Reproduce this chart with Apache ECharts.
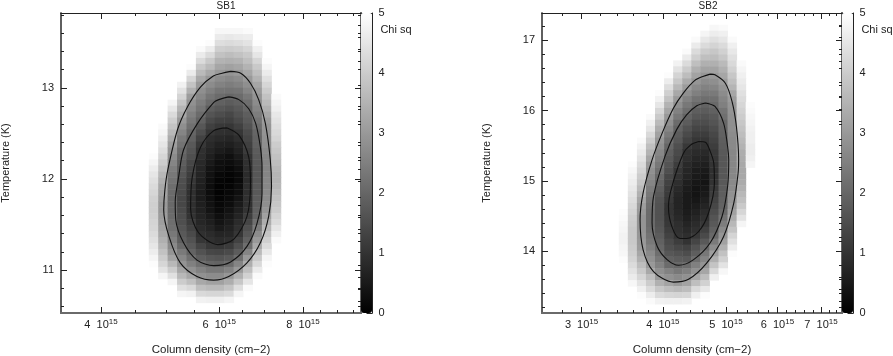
<!DOCTYPE html>
<html>
<head>
<meta charset="utf-8">
<style>
  html, body { margin: 0; padding: 0; background: #fff; }
  #chart { width: 893px; height: 356px; }
</style>
<script src="https://cdn.jsdelivr.net/npm/echarts@6/dist/echarts.min.js"></script>
</head>
<body>
<div id="chart"></div>
<script>
// SB1: column density of each pixel column (units of 1e15 cm-2), temperature of each pixel row (K)
var density1 = [4.79, 4.95, 5.11, 5.28, 5.46, 5.64, 5.82, 6.01, 6.21, 6.41, 6.62, 6.84, 7.07, 7.30];
var temp1 = [13.62, 13.55, 13.49, 13.42, 13.36, 13.29, 13.23, 13.16, 13.10, 13.03, 12.97, 12.90, 12.83, 12.77, 12.70, 12.64,
  12.57, 12.51, 12.44, 12.38, 12.31, 12.25, 12.18, 12.12, 12.05, 11.99, 11.92, 11.86, 11.79, 11.73, 11.66, 11.60,
  11.53, 11.47, 11.40, 11.33, 11.27, 11.20, 11.14, 11.07, 11.01, 10.94, 10.88, 10.81, 10.75, 10.68];
// first row that is below chi sq = 5 in each column, the rows above it are white
var firstRow1 = [21, 16, 12, 9, 6, 3, 2, 0, 0, 0, 0, 2, 5, 11];
var chi1 = [
  [4.95, 4.8, 4.65, 4.5, 4.4, 4.3, 4.2, 4.1, 4.05, 4.05, 4.1, 4.15, 4.2, 4.3, 4.4, 4.5, 4.65, 4.8, 4.95],
  [4.9, 4.8, 4.65, 4.5, 4.35, 4.2, 4.0, 3.8, 3.6, 3.45, 3.3, 3.2, 3.1, 3.0, 3.0, 3.05, 3.1, 3.2, 3.3, 3.45, 3.6, 3.8, 4.0, 4.2, 4.45, 4.8],
  [4.8, 4.55, 4.3, 4.05, 3.85, 3.6, 3.35, 3.1, 2.9, 2.75, 2.6, 2.45, 2.35, 2.25, 2.15, 2.1, 2.05, 2.05, 2.05, 2.1, 2.15, 2.2, 2.35, 2.5, 2.7, 2.9, 3.2, 3.6, 4.0, 4.4, 4.8],
  [4.75, 4.45, 4.15, 3.85, 3.55, 3.3, 3.0, 2.8, 2.6, 2.4, 2.25, 2.05, 1.95, 1.85, 1.75, 1.65, 1.55, 1.5, 1.45, 1.4, 1.4, 1.45, 1.5, 1.55, 1.65, 1.75, 1.85, 2.05, 2.4, 2.65, 2.9, 3.25, 3.6, 4.0, 4.4, 4.8],
  [4.95, 4.6, 4.2, 3.85, 3.45, 3.05, 2.85, 2.7, 2.5, 2.35, 2.2, 2.0, 1.9, 1.75, 1.65, 1.55, 1.4, 1.3, 1.2, 1.1, 1.0, 0.95, 0.95, 0.95, 0.95, 1.0, 1.15, 1.3, 1.45, 1.6, 1.75, 1.95, 2.2, 2.5, 2.85, 3.25, 3.75, 4.25, 4.75],
  [4.9, 4.6, 4.3, 3.95, 3.65, 3.3, 3.0, 2.8, 2.65, 2.45, 2.3, 2.1, 1.9, 1.7, 1.5, 1.3, 1.1, 0.95, 0.9, 0.8, 0.75, 0.7, 0.65, 0.6, 0.55, 0.55, 0.6, 0.65, 0.7, 0.75, 0.85, 0.95, 1.05, 1.35, 1.6, 1.85, 2.2, 2.55, 2.85, 3.3, 3.75, 4.25, 4.75],
  [4.95, 4.65, 4.3, 3.95, 3.65, 3.3, 2.95, 2.75, 2.5, 2.3, 2.1, 1.85, 1.65, 1.45, 1.25, 1.05, 0.9, 0.8, 0.7, 0.6, 0.5, 0.4, 0.35, 0.3, 0.25, 0.25, 0.3, 0.35, 0.4, 0.5, 0.6, 0.7, 0.85, 0.95, 1.1, 1.4, 1.7, 2.0, 2.35, 2.75, 3.15, 3.65, 4.2, 4.7],
  [4.85, 4.6, 4.35, 4.05, 3.8, 3.5, 3.25, 3.0, 2.75, 2.55, 2.3, 2.1, 1.9, 1.7, 1.5, 1.3, 1.1, 0.95, 0.8, 0.65, 0.55, 0.4, 0.3, 0.25, 0.15, 0.1, 0.05, 0.05, 0.1, 0.15, 0.2, 0.3, 0.4, 0.5, 0.7, 0.85, 1.05, 1.35, 1.65, 1.95, 2.35, 2.75, 3.15, 3.65, 4.2, 4.7],
  [4.85, 4.55, 4.3, 4.0, 3.7, 3.45, 3.15, 2.9, 2.65, 2.45, 2.25, 2.0, 1.8, 1.6, 1.4, 1.25, 1.05, 0.9, 0.75, 0.6, 0.45, 0.3, 0.25, 0.15, 0.1, 0.05, 0.1, 0.15, 0.2, 0.25, 0.35, 0.45, 0.55, 0.65, 0.75, 0.9, 1.15, 1.45, 1.75, 2.1, 2.55, 2.95, 3.4, 3.85, 4.3, 4.8],
  [4.85, 4.6, 4.35, 4.05, 3.8, 3.5, 3.25, 3.0, 2.75, 2.55, 2.3, 2.1, 1.9, 1.75, 1.6, 1.45, 1.25, 1.05, 0.9, 0.75, 0.65, 0.5, 0.4, 0.3, 0.2, 0.2, 0.25, 0.3, 0.4, 0.5, 0.6, 0.7, 0.85, 0.95, 1.05, 1.3, 1.55, 1.8, 2.15, 2.6, 3.0, 3.45, 3.9, 4.35, 4.8],
  [4.9, 4.65, 4.45, 4.2, 3.95, 3.75, 3.5, 3.25, 3.0, 2.8, 2.6, 2.35, 2.15, 2.0, 1.85, 1.75, 1.6, 1.45, 1.35, 1.25, 1.15, 1.0, 0.95, 0.9, 0.85, 0.85, 0.9, 0.9, 0.95, 0.95, 1.0, 1.2, 1.35, 1.55, 1.7, 1.9, 2.15, 2.6, 3.0, 3.4, 3.75, 4.1, 4.5, 4.9],
  [4.95, 4.7, 4.5, 4.2, 3.95, 3.75, 3.5, 3.25, 3.05, 2.9, 2.75, 2.6, 2.45, 2.3, 2.15, 2.0, 1.95, 1.9, 1.8, 1.75, 1.75, 1.7, 1.7, 1.7, 1.75, 1.75, 1.8, 1.85, 1.9, 1.95, 2.2, 2.45, 2.75, 3.0, 3.3, 3.65, 3.95, 4.25, 4.6, 4.9],
  [4.95, 4.8, 4.6, 4.4, 4.2, 4.0, 3.8, 3.65, 3.45, 3.25, 3.05, 2.95, 2.9, 2.85, 2.8, 2.7, 2.65, 2.6, 2.6, 2.6, 2.65, 2.65, 2.7, 2.75, 2.8, 2.95, 3.15, 3.4, 3.6, 3.85, 4.05, 4.3, 4.55, 4.8, 4.95],
  [4.9, 4.8, 4.7, 4.55, 4.45, 4.35, 4.25, 4.15, 4.0, 3.9, 3.8, 3.7, 3.6, 3.55, 3.55, 3.6, 3.7, 3.8, 3.9, 4.0, 4.15, 4.3, 4.5, 4.7, 4.9]
];
// chi sq contours 3, 2, 1 as [column density / 1e15, temperature]
var contour1a = [[6.24, 13.18], [6.06, 13.16], [5.88, 13.13], [5.63, 13.01], [5.38, 12.79], [5.20, 12.54], [5.03, 12.10], [4.98, 11.88], [4.96, 11.66], [5.05, 11.37], [5.25, 11.08], [5.56, 10.93], [5.89, 10.89], [6.20, 10.93], [6.60, 11.08], [6.91, 11.30], [7.11, 11.59], [7.18, 11.92], [7.15, 12.21], [7.03, 12.61], [6.87, 12.87], [6.68, 13.05], [6.46, 13.16], [6.24, 13.18]];
var contour1b = [[6.20, 12.90], [5.99, 12.87], [5.89, 12.84], [5.57, 12.61], [5.31, 12.32], [5.22, 12.02], [5.16, 11.75], [5.17, 11.55], [5.31, 11.30], [5.56, 11.11], [5.89, 11.05], [6.24, 11.09], [6.60, 11.26], [6.83, 11.51], [6.95, 11.84], [6.95, 12.13], [6.91, 12.35], [6.80, 12.61], [6.64, 12.77], [6.42, 12.87], [6.20, 12.90]];
var contour1c = [[6.17, 12.56], [5.89, 12.53], [5.63, 12.35], [5.47, 12.02], [5.44, 11.67], [5.59, 11.41], [5.97, 11.28], [6.31, 11.34], [6.60, 11.59], [6.68, 11.95], [6.64, 12.24], [6.42, 12.48], [6.17, 12.56]];

// SB2
var density2 = [3.48, 3.60, 3.71, 3.83, 3.96, 4.09, 4.22, 4.36, 4.50, 4.65, 4.80, 4.96, 5.12, 5.29, 5.46];
var temp2 = [17.17, 17.09, 17.00, 16.92, 16.83, 16.75, 16.66, 16.58, 16.49, 16.41, 16.33, 16.24, 16.16, 16.07, 15.99, 15.90,
  15.82, 15.73, 15.65, 15.56, 15.48, 15.40, 15.31, 15.23, 15.14, 15.06, 14.97, 14.89, 14.80, 14.72, 14.63, 14.55,
  14.47, 14.38, 14.30, 14.21, 14.13, 14.04, 13.96, 13.87, 13.79, 13.70, 13.62, 13.54, 13.45, 13.37, 13.28];
var firstRow2 = [31, 23, 19, 15, 11, 8, 6, 4, 2, 1, 0, 0, 2, 6, 13];
var chi2 = [
  [4.95, 4.9, 4.85, 4.8, 4.75, 4.75, 4.8, 4.85, 4.95],
  [4.95, 4.85, 4.75, 4.65, 4.55, 4.45, 4.35, 4.25, 4.15, 4.05, 4.0, 3.95, 3.95, 3.95, 4.0, 4.05, 4.15, 4.3, 4.45, 4.6, 4.85],
  [4.9, 4.75, 4.6, 4.45, 4.3, 4.15, 4.0, 3.85, 3.65, 3.45, 3.25, 3.1, 3.0, 2.9, 2.9, 2.9, 2.95, 3.0, 3.05, 3.25, 3.45, 3.7, 3.95, 4.2, 4.45, 4.7, 4.95],
  [4.9, 4.7, 4.5, 4.25, 4.0, 3.75, 3.5, 3.25, 3.0, 2.85, 2.75, 2.6, 2.45, 2.35, 2.25, 2.15, 2.1, 2.1, 2.1, 2.15, 2.25, 2.35, 2.5, 2.7, 2.85, 3.0, 3.3, 3.7, 4.0, 4.3, 4.65, 4.9],
  [4.95, 4.75, 4.5, 4.2, 3.95, 3.65, 3.4, 3.15, 2.95, 2.8, 2.65, 2.5, 2.35, 2.2, 2.05, 1.95, 1.85, 1.75, 1.65, 1.6, 1.6, 1.6, 1.65, 1.7, 1.8, 1.9, 2.0, 2.15, 2.35, 2.55, 2.8, 3.0, 3.45, 3.9, 4.3, 4.75],
  [4.95, 4.65, 4.35, 4.05, 3.8, 3.5, 3.25, 3.0, 2.8, 2.6, 2.4, 2.2, 2.0, 1.85, 1.75, 1.65, 1.55, 1.4, 1.3, 1.2, 1.15, 1.1, 1.0, 1.0, 1.05, 1.1, 1.2, 1.3, 1.45, 1.55, 1.7, 1.9, 2.1, 2.55, 2.85, 3.2, 3.7, 4.2, 4.7],
  [4.75, 4.45, 4.15, 3.9, 3.6, 3.3, 3.0, 2.8, 2.55, 2.35, 2.1, 1.95, 1.8, 1.7, 1.55, 1.45, 1.35, 1.2, 1.05, 1.0, 0.9, 0.8, 0.75, 0.7, 0.7, 0.75, 0.8, 0.9, 0.95, 1.0, 1.2, 1.4, 1.6, 1.8, 2.0, 2.35, 2.7, 3.0, 3.6, 4.15, 4.7],
  [4.9, 4.6, 4.3, 4.0, 3.7, 3.35, 3.05, 2.8, 2.55, 2.35, 2.15, 1.95, 1.8, 1.6, 1.45, 1.3, 1.1, 0.95, 0.9, 0.8, 0.75, 0.7, 0.6, 0.55, 0.5, 0.5, 0.5, 0.55, 0.6, 0.7, 0.8, 0.9, 1.0, 1.3, 1.5, 1.75, 2.1, 2.5, 2.85, 3.2, 3.7, 4.2, 4.75],
  [4.9, 4.6, 4.3, 4.05, 3.75, 3.45, 3.2, 2.95, 2.7, 2.5, 2.25, 2.05, 1.85, 1.7, 1.5, 1.35, 1.2, 1.05, 0.95, 0.85, 0.75, 0.65, 0.55, 0.5, 0.45, 0.4, 0.4, 0.45, 0.55, 0.65, 0.75, 0.85, 0.95, 1.1, 1.35, 1.6, 1.85, 2.15, 2.5, 2.85, 3.25, 3.75, 4.3, 4.7],
  [4.8, 4.55, 4.3, 4.0, 3.75, 3.45, 3.2, 2.95, 2.75, 2.55, 2.35, 2.15, 1.95, 1.8, 1.65, 1.5, 1.35, 1.2, 1.05, 0.95, 0.8, 0.7, 0.6, 0.5, 0.45, 0.4, 0.45, 0.5, 0.6, 0.7, 0.85, 0.95, 1.05, 1.25, 1.45, 1.75, 2.05, 2.35, 2.6, 2.9, 3.25, 3.7, 4.1, 4.55, 4.95],
  [4.85, 4.65, 4.4, 4.15, 3.9, 3.7, 3.45, 3.2, 3.0, 2.8, 2.6, 2.4, 2.2, 2.05, 1.9, 1.75, 1.65, 1.5, 1.4, 1.3, 1.2, 1.1, 1.05, 1.0, 0.95, 0.95, 1.0, 1.1, 1.2, 1.3, 1.4, 1.5, 1.65, 1.75, 1.9, 2.05, 2.4, 2.75, 3.1, 3.45, 3.85, 4.25, 4.7],
  [4.9, 4.7, 4.5, 4.3, 4.1, 3.9, 3.65, 3.45, 3.25, 3.05, 2.9, 2.75, 2.6, 2.5, 2.3, 2.2, 2.0, 1.95, 1.9, 1.85, 1.8, 1.75, 1.7, 1.7, 1.7, 1.7, 1.75, 1.8, 1.85, 1.9, 1.95, 2.05, 2.25, 2.45, 2.7, 2.95, 3.15, 3.45, 3.8, 4.1, 4.45, 4.85],
  [4.9, 4.7, 4.55, 4.4, 4.25, 4.1, 3.9, 3.75, 3.55, 3.25, 3.05, 2.95, 2.9, 2.85, 2.8, 2.8, 2.75, 2.7, 2.7, 2.65, 2.65, 2.65, 2.65, 2.65, 2.7, 2.75, 2.85, 2.9, 3.0, 3.15, 3.35, 3.6, 3.85, 4.15, 4.4, 4.65, 4.95],
  [4.9, 4.8, 4.7, 4.6, 4.5, 4.4, 4.3, 4.2, 4.1, 4.0, 3.9, 3.8, 3.7, 3.6, 3.5, 3.4, 3.35, 3.3, 3.3, 3.3, 3.35, 3.45, 3.6, 3.75, 3.95, 4.2, 4.45, 4.8],
  [4.95, 4.9, 4.85, 4.8, 4.75, 4.7, 4.7, 4.65, 4.65, 4.7, 4.8]
];
var contour2a = [[4.73, 16.52], [4.62, 16.49], [4.48, 16.43], [4.30, 16.25], [4.15, 16.03], [3.99, 15.68], [3.85, 15.30], [3.73, 14.83], [3.69, 14.45], [3.73, 14.02], [3.87, 13.71], [4.15, 13.56], [4.38, 13.60], [4.67, 13.83], [4.96, 14.21], [5.14, 14.68], [5.22, 15.11], [5.23, 15.30], [5.19, 15.77], [5.11, 16.13], [4.99, 16.39], [4.81, 16.51], [4.73, 16.52]];
var contour2b = [[4.65, 16.11], [4.51, 16.07], [4.35, 15.94], [4.20, 15.73], [4.03, 15.35], [3.87, 14.78], [3.85, 14.40], [3.92, 14.07], [4.06, 13.88], [4.23, 13.80], [4.46, 13.88], [4.73, 14.12], [4.93, 14.49], [5.03, 14.92], [5.05, 15.30], [5.03, 15.49], [4.96, 15.82], [4.81, 16.06], [4.65, 16.11]];
var contour2c = [[4.54, 15.56], [4.41, 15.51], [4.30, 15.39], [4.13, 14.92], [4.08, 14.64], [4.13, 14.35], [4.25, 14.18], [4.35, 14.18], [4.54, 14.28], [4.70, 14.54], [4.80, 14.97], [4.79, 15.25], [4.73, 15.42], [4.65, 15.55], [4.54, 15.56]];

// axis ticks
var xMajor1 = [4e15, 6e15, 8e15];
var xMinor1 = [4.5e15, 5e15, 5.5e15, 6.5e15, 7e15, 7.5e15, 8.5e15, 9e15, 9.5e15];
var yMajor1 = [11, 12, 13];
var yMinor1 = [10.6, 10.8, 11.2, 11.4, 11.6, 11.8, 12.2, 12.4, 12.6, 12.8, 13.2, 13.4, 13.6, 13.8];
var xMajor2 = [3e15, 4e15, 5e15, 6e15, 7e15];
var xMinor2 = [2.8e15, 3.2e15, 3.4e15, 3.6e15, 3.8e15, 4.2e15, 4.4e15, 4.6e15, 4.8e15, 5.2e15, 5.4e15, 5.6e15, 5.8e15, 6.2e15, 6.4e15, 6.6e15, 6.8e15, 7.2e15, 7.4e15];
var yMajor2 = [14, 15, 16, 17];
var yMinor2 = [13.2, 13.4, 13.6, 13.8, 14.2, 14.4, 14.6, 14.8, 15.2, 15.4, 15.6, 15.8, 16.2, 16.4, 16.6, 16.8, 17.2];
var barMajor = [0, 1, 2, 3, 4, 5];
var barMinor = [0.2, 0.4, 0.6, 0.8, 1.2, 1.4, 1.6, 1.8, 2.2, 2.4, 2.6, 2.8, 3.2, 3.4, 3.6, 3.8, 4.2, 4.4, 4.6, 4.8];

var font = "Liberation Sans";
var ink = "#222";

var grids = [], xAxes = [], yAxes = [], series = [], visualMaps = [];

function addPanel(p) {
  // pixel map has its own category grid, only as big as the pixels that are not white
  var cellGrid = grids.length;
  grids.push({ left: p.cellLeft, top: p.cellTop, width: p.cellWidth, height: p.cellHeight, outerBoundsMode: "none" });
  xAxes.push({ gridIndex: cellGrid, type: "category", data: p.density, show: false });
  yAxes.push({ gridIndex: cellGrid, type: "category", data: p.temp, inverse: true, show: false });
  var cells = [];
  p.chi.forEach(function (col, i) {
    col.forEach(function (v, j) {
      cells.push([i, p.firstRow[i] + j, v]);
    });
  });
  series.push({
    type: "heatmap",
    xAxisIndex: xAxes.length - 1,
    yAxisIndex: yAxes.length - 1,
    data: cells,
    progressive: 0,
    z: 1
  });
  visualMaps.push({
    type: "continuous",
    min: 0,
    max: 5,
    seriesIndex: series.length - 1,
    inRange: { color: ["#000000", "#ffffff"] },
    left: p.left + 300,
    top: 13,
    itemWidth: 11,
    itemHeight: 300,
    padding: 0,
    text: null,
    showLabel: false,
    calculable: false,
    realtime: false,
    hoverLink: false,
    z: 1
  });

  // frame, ticks and labels
  var plotGrid = grids.length;
  grids.push({ left: p.left, top: 13, width: 300, height: 300, outerBoundsMode: "none" });
  var firstX = xAxes.length, firstY = yAxes.length;

  function xAxis(position, ticks, len, extra) {
    xAxes.push(Object.assign({
      gridIndex: plotGrid,
      type: "log",
      position: position,
      min: p.xMin,
      max: p.xMax,
      splitLine: { show: false },
      minorTick: { show: false },
      axisLine: { onZero: false, lineStyle: { color: position === "bottom" ? "#6a6a6a" : ink, width: position === "bottom" ? 2 : 1 } },
      axisTick: { inside: true, length: len, customValues: ticks, lineStyle: { color: ink, width: 1 } },
      axisLabel: { show: false }
    }, extra));
  }
  function yAxis(position, ticks, len, extra) {
    yAxes.push(Object.assign({
      gridIndex: plotGrid,
      type: "value",
      position: position,
      min: p.yMin,
      max: p.yMax,
      splitLine: { show: false },
      axisLine: { onZero: false, lineStyle: { color: position === "left" ? "#555" : "#666", width: position === "left" ? 1.5 : 2 } },
      axisTick: { inside: true, length: len, customValues: ticks, lineStyle: { color: ink, width: 1 } },
      axisLabel: { show: false }
    }, extra));
  }

  xAxis("bottom", p.xMajor, 6, {
    name: "Column density (cm\u22122)",
    nameLocation: "middle",
    nameGap: 31,
    nameTextStyle: { fontFamily: font, fontSize: 11.5, color: ink },
    axisLabel: {
      show: true,
      customValues: p.xMajor,
      margin: 5,
      fontFamily: font,
      fontSize: 11,
      color: ink,
      formatter: function (v) {
        return "{m|" + Math.round(v / 1e15) + "  10}{s|15}";
      },
      rich: {
        m: { fontFamily: font, fontSize: 11, color: ink },
        s: { fontFamily: font, fontSize: 8, color: ink, padding: [0, 0, 6, 0] }
      }
    }
  });
  xAxis("bottom", p.xMinor, 3);
  xAxis("top", p.xMajor, 6);
  xAxis("top", p.xMinor, 3);

  yAxis("left", p.yMajor, 6, {
    name: "Temperature (K)",
    nameLocation: "middle",
    nameGap: p.nameGap,
    nameRotate: 90,
    nameTextStyle: { fontFamily: font, fontSize: 11, color: ink },
    axisLabel: { show: true, customValues: p.yMajor, margin: 7, fontFamily: font, fontSize: 11, color: ink }
  });
  yAxis("left", p.yMinor, 3);
  yAxis("right", p.yMajor, 6);
  yAxis("right", p.yMinor, 3);

  [p.contourA, p.contourB, p.contourC].forEach(function (line) {
    series.push({
      type: "line",
      xAxisIndex: firstX,
      yAxisIndex: firstY,
      data: line.map(function (pt) { return [pt[0] * 1e15, pt[1]]; }),
      smooth: 0.3,
      showSymbol: false,
      silent: true,
      lineStyle: { color: "#111", width: 1.1 },
      z: 3
    });
  });

  // colour bar scale
  var barGrid = grids.length;
  grids.push({ left: p.left + 300, top: 13, width: 11.5, height: 300, outerBoundsMode: "none" });
  xAxes.push({ gridIndex: barGrid, type: "value", show: true, position: "top", min: 0, max: 1,
    axisLine: { onZero: false, lineStyle: { color: ink, width: 1 } }, axisTick: { show: false }, axisLabel: { show: false }, splitLine: { show: false } });
  yAxes.push({ gridIndex: barGrid, type: "value", position: "right", min: 0, max: 5,
    splitLine: { show: false },
    axisLine: { onZero: false, lineStyle: { color: ink, width: 1 } },
    axisTick: { inside: true, length: 6, customValues: barMajor, lineStyle: { color: ink } },
    axisLabel: { customValues: barMajor, margin: 6, fontFamily: font, fontSize: 11, color: ink }
  });
  yAxes.push({ gridIndex: barGrid, type: "value", position: "right", min: 0, max: 5,
    splitLine: { show: false },
    axisLine: { show: false },
    axisTick: { inside: true, length: 3, customValues: barMinor, lineStyle: { color: ink } },
    axisLabel: { show: false }
  });
}

addPanel({
  left: 61, nameGap: 50,
  cellLeft: 149, cellTop: 28.3, cellWidth: 132, cellHeight: 274.6,
  density: density1, temp: temp1, firstRow: firstRow1, chi: chi1,
  xMin: 3.487e15, xMax: 9.76e15, yMin: 10.53, yMax: 13.82,
  xMajor: xMajor1, xMinor: xMinor1, yMajor: yMajor1, yMinor: yMinor1,
  contourA: contour1a, contourB: contour1b, contourC: contour1c
});
addPanel({
  left: 542, nameGap: 50,
  cellLeft: 619, cellTop: 25, cellWidth: 136, cellHeight: 279.2,
  density: density2, temp: temp2, firstRow: firstRow2, chi: chi2,
  xMin: 2.608e15, xMax: 7.54e15, yMin: 13.12, yMax: 17.39,
  xMajor: xMajor2, xMinor: xMinor2, yMajor: yMajor2, yMinor: yMinor2,
  contourA: contour2a, contourB: contour2b, contourC: contour2c
});

function label(text, left, top) {
  return { text: text, left: left, top: top, padding: 0, textAlign: "center",
    textStyle: { fontFamily: font, fontSize: 10, fontWeight: "normal", color: ink } };
}
var chiLabel1 = label("Chi sq", 396, 24), chiLabel2 = label("Chi sq", 877, 24);
chiLabel1.textStyle.fontSize = chiLabel2.textStyle.fontSize = 11;

var chart = echarts.init(document.getElementById("chart"), null, { renderer: "canvas" });
chart.setOption({
  animation: false,
  backgroundColor: "#ffffff",
  title: [label("SB1", 226, 1), label("SB2", 708, 1), chiLabel1, chiLabel2],
  tooltip: { show: false },
  grid: grids,
  xAxis: xAxes,
  yAxis: yAxes,
  visualMap: visualMaps,
  series: series
});
</script>
</body>
</html>
